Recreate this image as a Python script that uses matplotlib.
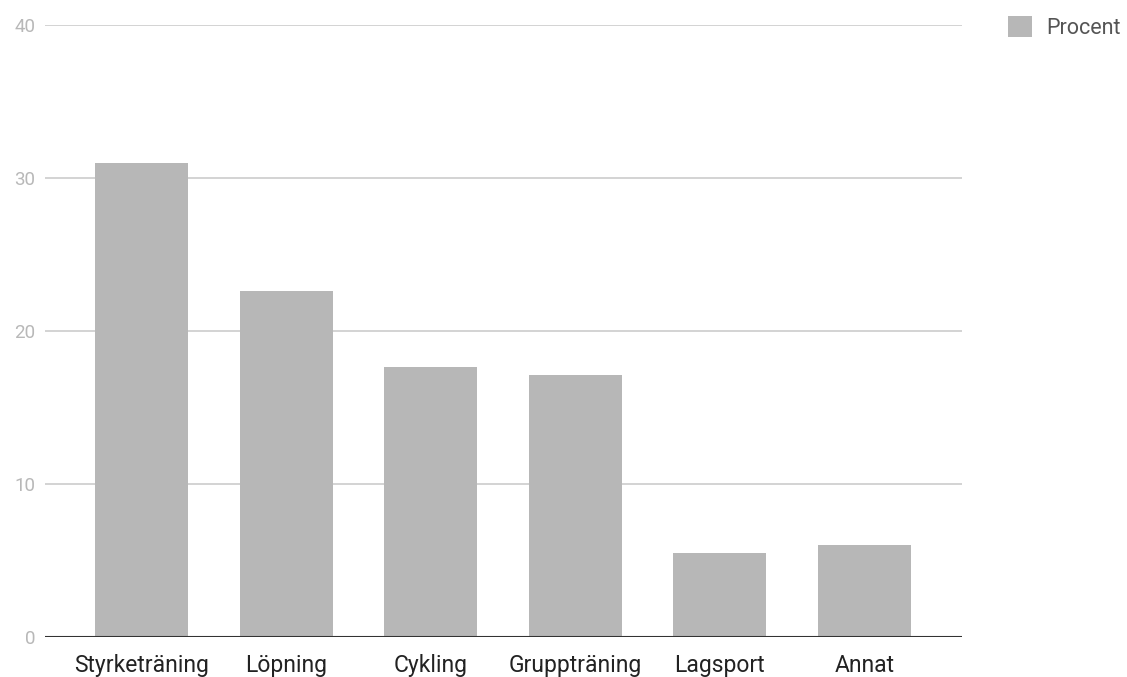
import matplotlib
matplotlib.use('Agg')
import matplotlib.pyplot as plt
import numpy as np

plt.rcParams['font.family'] = ['Roboto', 'DejaVu Sans']

# Andel per träningsform
Aktiviteter = ['Styrketräning', 'Löpning', 'Cykling', 'Gruppträning', 'Lagsport', 'Annat']
Procent = [31.0, 22.6, 17.65, 17.1, 5.5, 6.0]
YTicks = [0, 10, 20, 30, 40]

BarColor = '#b7b7b7'

fig = plt.figure(figsize=(11.27, 6.77), dpi=100)
ax = fig.add_axes([45/1127, 40/677, (962-45)/1127, (637-25)/677])

x = np.arange(len(Aktiviteter))
ax.bar(x, Procent, width=0.643, color=BarColor, label='Procent', zorder=3)

ax.set_xlim(-0.667, len(Aktiviteter) - 1 + 0.674)
ax.set_ylim(0, 40)
ax.set_yticks(YTicks)
ax.set_yticklabels([str(v) for v in YTicks], color='#b8b8b8', fontsize=13.5)
ax.set_xticks(x)
ax.set_xticklabels(Aktiviteter, color='#222222', fontsize=16.5)
ax.tick_params(axis='both', length=0)
ax.tick_params(axis='y', pad=7)
ax.tick_params(axis='x', pad=12)

for v in YTicks[1:]:
    ax.axhline(v, color='#cccccc', lw=1.2, zorder=1)
ax.axhline(0, color='#333333', lw=1.5, zorder=4)

for s in ax.spines.values():
    s.set_visible(False)

leg = fig.legend(loc='upper left', bbox_to_anchor=(989/1127, 1 + 3/677),
                 frameon=False, fontsize=15.5, handlelength=1.1, handleheight=1.1,
                 handletextpad=0.65, labelcolor='#555555')

fig.savefig('out.png', dpi=100)
